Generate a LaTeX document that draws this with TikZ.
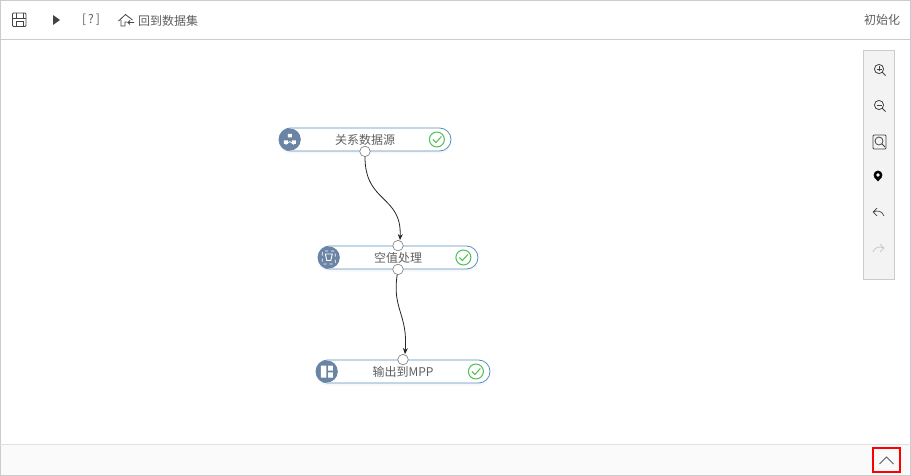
\documentclass[tikz,border=0pt]{standalone}
\usepackage{fontspec}
\setmainfont{Noto Sans CJK SC}
\usepackage{tikz}
\usetikzlibrary{positioning}
\usetikzlibrary{arrows.meta, shapes.misc, shadows}
\definecolor{framegray}{HTML}{CCCCCC}
\definecolor{textgray}{HTML}{5F5F5F}
\definecolor{iconblue}{HTML}{6B84A3}
\definecolor{boxblue}{HTML}{5A90BC}
\definecolor{okgreen}{HTML}{4CBF52}
\definecolor{panelgray}{HTML}{F3F3F3}
\definecolor{icondark}{HTML}{444444}
\tikzset{
  flownode/.style = {rounded rectangle, draw=boxblue, fill=white, line width=.8pt,
    minimum height=23pt, inner sep=0pt, text=textgray, font=\fontsize{12}{14}\selectfont,
    drop shadow={opacity=.06, shadow xshift=0pt, shadow yshift=-2.5pt}},
  portdot/.style = {circle, draw=icondark!70, fill=white, line width=.6pt, minimum size=10.5pt, inner sep=0pt},
  badge/.style = {circle, fill=iconblue, draw=none, minimum size=22pt, inner sep=0pt},
  okmark/.style = {circle, draw=okgreen, line width=1pt, minimum size=15pt, inner sep=0pt},
  barlabel/.style = {text=textgray, font=\fontsize{12}{14}\selectfont, inner sep=0pt},
  glyph/.style = {draw=icondark, line width=.8pt},
  link/.style = {-{Stealth[length=6pt,width=5pt]}, draw=black!85, line width=.8pt}
}
\newcommand{\tickin}[1]{\draw[okgreen, line width=1pt] ([shift={(-4,0)}]#1.center) -- ([shift={(-1,3)}]#1.center) -- ([shift={(4.5,-3)}]#1.center);}
\newcommand{\lens}[2]{\draw[glyph] (#1,#2) circle (4.6) (#1+3.4,#2+3.4) -- (#1+6.6,#2+6.6);}
\begin{document}
\begin{tikzpicture}[x=1pt, y=-1pt]
  \useasboundingbox (0,0) rectangle (911,476);
  % frame and bars
  \fill[white] (0,0) rectangle (911,476);
  \fill[black!2] (1,444) rectangle (910,475);
  \draw[framegray, line width=1pt] (.5,.5) rectangle (910.5,475.5);
  \draw[framegray, line width=1pt] (0,40) -- (911,40);
  \draw[black!12, line width=1pt] (0,444) -- (911,444);
  % toolbar
  \draw[glyph, rounded corners=1pt] (12.5,13) rectangle (26,26.5);
  \draw[glyph] (12.5,18.5) -- (26,18.5) (16,26.5) -- (16,21.5) -- (23,21.5) -- (23,26.5) (16,13) -- (16,18.5) (23,13) -- (23,18.5);
  \fill[icondark] (53,15) -- (60,20) -- (53,25) -- cycle;
  \node[barlabel] (help) at (91,20) {[\,?\,]};
  \draw[glyph] (118.5,21) -- (125.5,14.5) -- (132.5,20) (121,20) -- (121,26) -- (125,26) -- (125,22) -- (127,22) (128,22.5) -- (134,22.5) (130,20.5) -- (128,22.5) -- (130,24.5);
  \node[barlabel] (back) at (168,20.5) {回到数据集};
  \node[barlabel] (init) at (882,20) {初始化};
  % zoom panel
  \draw[framegray, fill=panelgray, line width=1pt] (863.5,50.5) rectangle (894.5,279.5);
  \lens{879}{69}
  \draw[glyph] (876.5,69) -- (881.5,69) (879,66.5) -- (879,71.5);
  \lens{879}{105}
  \draw[glyph] (876.5,105) -- (881.5,105);
  \draw[glyph, rounded corners=1pt] (873,135) rectangle (886,149);
  \draw[glyph] (879,141) circle (4) (882,144) -- (885,147);
  \fill[black] (878,175) circle (4.4);
  \fill[black] (874.1,177) -- (878,181.5) -- (881.9,177) -- cycle;
  \fill[white] (878,175) circle (1.8);
  \draw[glyph, line width=.7pt] (877,208) -- (873,212) -- (877,216) (873,212) .. controls (878,210) and (882,211) .. (884,216);
  \draw[black!20, line width=.9pt] (880,244) -- (884,248) -- (880,252) (884,248) .. controls (879,246) and (875,247) .. (873,252);
  % flow nodes
  \node[flownode, minimum width=172pt] (source) at (365,139.5) {关系数据源};
  \node[flownode, minimum width=160pt] (nullfix) at (398,257.5) {空值处理};
  \node[flownode, minimum width=174pt] (mpp) at (403,371.5) {输出到MPP};
  \node[badge, right=0pt of source.west] (srcicon) {};
  \node[badge, right=0pt of nullfix.west] (fixicon) {};
  \node[badge, right=0pt of mpp.west] (mppicon) {};
  \node[okmark, left=6.5pt of source.east] (srcok) {};
  \node[okmark, left=7pt of nullfix.east] (fixok) {};
  \node[okmark, left=6.5pt of mpp.east] (mppok) {};
  \tickin{srcok}
  \tickin{fixok}
  \tickin{mppok}
  % badge glyphs
  \fill[white] ([shift={(-2,-5.5)}]srcicon.center) rectangle +(4,3.5)
    ([shift={(-6,1)}]srcicon.center) rectangle +(4,3.5)
    ([shift={(2,1)}]srcicon.center) rectangle +(4,3.5);
  \draw[white, line width=.7pt] ([yshift=-2pt]srcicon.center) -- +(-4,3) ([yshift=-2pt]srcicon.center) -- +(4,3);
  \draw[white, dashed, line width=.8pt, rounded corners=1.5pt] ([shift={(-6.5,-6.5)}]fixicon.center) rectangle +(13,13);
  \draw[white, line width=.9pt] ([shift={(-3.5,-3.5)}]fixicon.center) -- +(7,0) -- +(5.5,6.5) -- +(1.5,6.5) -- cycle;
  \fill[white] ([shift={(-6,-6)}]mppicon.center) rectangle +(5.5,12)
    ([shift={(1.2,-6)}]mppicon.center) rectangle +(4.8,5.2)
    ([shift={(1.2,.8)}]mppicon.center) rectangle +(4.8,5.2);
  % ports
  \node[portdot] (srcout) at (source.south) {};
  \node[portdot] (fixin) at (nullfix.north) {};
  \node[portdot] (fixout) at (nullfix.south) {};
  \node[portdot] (mppin) at (mpp.north) {};
  % links
  \draw[link] (srcout) .. controls +(0,52) and +(2,-45) .. ([xshift=2pt]fixin.north);
  \draw[link] (fixout) .. controls +(-6,40) and +(3,-40) .. ([xshift=2pt]mppin.north);
  % collapse button
  \draw[red, line width=1.6pt] (873,448) rectangle (900,472);
  \node[inner sep=0pt] (collapse) at (886.5,460) {};
  \draw[textgray, line width=.9pt] ([shift={(-7,4)}]collapse.center) -- ([shift={(0,-3)}]collapse.center) -- ([shift={(7,4)}]collapse.center);
\end{tikzpicture}
\end{document}
